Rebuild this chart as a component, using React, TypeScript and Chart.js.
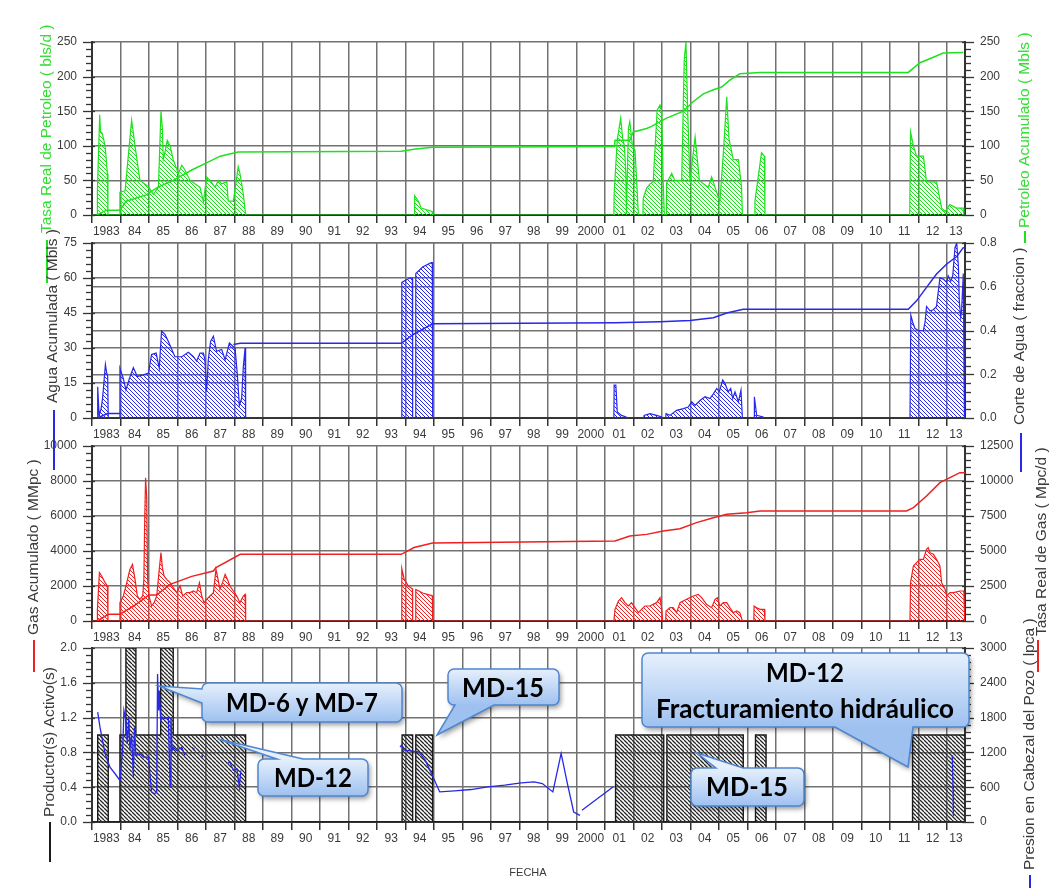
import React, { useEffect, useRef } from 'react';
import { Chart, registerables } from 'chart.js';

Chart.register(...registerables);

type Pt = [number, number | null];

// ---------------- x axis (years) ----------------
const X_MIN = 1983;
const X_MAX = 2013.63;
const yearTicks = [1983, 1984, 1985, 1986, 1987, 1988, 1989, 1990, 1991, 1992, 1993, 1994, 1995, 1996, 1997, 1998, 1999, 2000, 2001, 2002, 2003, 2004, 2005, 2006, 2007, 2008, 2009, 2010, 2011, 2012, 2013];
const yearLabels = ['1983', '84', '85', '86', '87', '88', '89', '90', '91', '92', '93', '94', '95', '96', '97', '98', '99', '2000', '01', '02', '03', '04', '05', '06', '07', '08', '09', '10', '11', '12', '13'];

// ---------------- y axis ticks ----------------
const oilRateTicks = [0, 50, 100, 150, 200, 250];
const oilCumTicks = [0, 50, 100, 150, 200, 250];
const waterCumTicks = [0, 15, 30, 45, 60, 75];
const waterCutTicks = [0, 0.2, 0.4, 0.6, 0.8];
const gasCumTicks = [0, 2000, 4000, 6000, 8000, 10000];
const gasRateTicks = [0, 2500, 5000, 7500, 10000, 12500];
const producerTicks = [0, 0.4, 0.8, 1.2, 1.6, 2.0];
const pressureTicks = [0, 600, 1200, 1800, 2400, 3000];

// ---------------- series: [year, value] ----------------
const oilRate: Pt[] = [
  [1983.0, 0], [1983.18, 0], [1983.19, 36], [1983.27, 145], [1983.30, 120], [1983.36, 118], [1983.46, 100], [1983.54, 60], [1983.56, 0],
  [1983.97, 0], [1983.98, 33], [1984.16, 35], [1984.39, 137], [1984.51, 100], [1984.68, 50], [1984.98, 41], [1985.15, 30], [1985.33, 40],
  [1985.42, 150], [1985.47, 125], [1985.50, 80], [1985.58, 95], [1985.64, 108], [1985.74, 100], [1985.85, 80], [1986.03, 60], [1986.15, 72],
  [1986.26, 65], [1986.44, 50], [1986.61, 45], [1986.79, 40], [1986.91, 19], [1987.02, 55], [1987.14, 50], [1987.32, 40], [1987.43, 50],
  [1987.55, 45], [1987.73, 48], [1987.78, 20], [1987.96, 20], [1988.13, 70], [1988.19, 60], [1988.31, 30], [1988.39, 0],
  [1994.30, 0], [1994.32, 28], [1994.45, 20], [1994.55, 10], [1994.93, 5], [1994.95, 0],
  [2001.31, 0], [2001.32, 31], [2001.43, 109], [2001.55, 140], [2001.62, 110], [2001.68, 100], [2001.73, 60], [2001.75, 0], [2001.77, 0],
  [2001.82, 125], [2001.87, 135], [2001.96, 100], [2002.05, 94], [2002.11, 50], [2002.17, 0],
  [2002.33, 0], [2002.34, 24], [2002.46, 39], [2002.58, 45], [2002.69, 48], [2002.83, 152], [2002.93, 159], [2002.99, 150], [2003.04, 50], [2003.08, 0],
  [2003.15, 0], [2003.16, 46], [2003.34, 60], [2003.45, 50], [2003.57, 50], [2003.69, 50], [2003.78, 225], [2003.84, 250], [2003.90, 150],
  [2003.98, 48], [2004.16, 113], [2004.24, 80], [2004.31, 50], [2004.45, 45], [2004.62, 40], [2004.74, 55], [2004.86, 40], [2005.03, 19],
  [2005.17, 101], [2005.27, 171], [2005.35, 110], [2005.50, 80], [2005.68, 80], [2005.79, 40], [2005.82, 0],
  [2006.25, 0], [2006.26, 20], [2006.49, 90], [2006.59, 85], [2006.61, 0],
  [2011.69, 0], [2011.72, 120], [2011.82, 100], [2011.93, 85], [2012.17, 85], [2012.28, 48], [2012.63, 48], [2012.81, 10], [2012.93, 5],
  [2013.10, 15], [2013.33, 10], [2013.57, 10], [2013.59, 0],
];

const oilCum: Pt[] = [
  [1983.19, 0.5], [1983.51, 7], [1983.98, 7], [1984.2, 20], [1984.9, 29], [1985.3, 40], [1985.85, 50], [1986.5, 65], [1987.0, 75], [1987.5, 85],
  [1988.13, 91], [1993.85, 92], [1994.3, 95], [1994.95, 98], [2001.33, 99], [2001.35, 108], [2001.87, 108], [2001.99, 120], [2002.46, 125],
  [2002.63, 128], [2003.16, 140], [2003.75, 150], [2004.10, 164], [2004.45, 175], [2004.80, 181], [2005.09, 185], [2005.38, 195], [2005.73, 204],
  [2006.44, 206], [2011.64, 206], [2012.05, 220], [2012.52, 228], [2012.87, 234], [2013.57, 235],
];

const waterCut: Pt[] = [
  [1983.0, 0], [1983.19, 0], [1983.20, 0.143], [1983.25, 0.012], [1983.32, 0.043], [1983.37, 0.089], [1983.42, 0.166], [1983.47, 0.245],
  [1983.51, 0.21], [1983.55, 0.19], [1983.57, 0],
  [1983.97, 0], [1983.98, 0.228], [1984.10, 0.18], [1984.19, 0.128], [1984.31, 0.18], [1984.45, 0.23], [1984.59, 0.19], [1984.80, 0.197],
  [1984.98, 0.205], [1985.09, 0.29], [1985.25, 0.297], [1985.36, 0.228], [1985.44, 0.397], [1985.56, 0.382], [1985.68, 0.35], [1985.80, 0.313],
  [1985.91, 0.28], [1986.15, 0.28], [1986.38, 0.3], [1986.56, 0.28], [1986.67, 0.26], [1986.79, 0.297], [1986.91, 0.297], [1986.96, 0.266],
  [1987.02, 0.12], [1987.08, 0.266], [1987.16, 0.35], [1987.26, 0.374], [1987.37, 0.305], [1987.55, 0.313], [1987.67, 0.266], [1987.82, 0.343],
  [1987.94, 0.328], [1988.02, 0.32], [1988.10, 0.197], [1988.17, 0.058], [1988.25, 0.089], [1988.31, 0.235], [1988.37, 0.32], [1988.39, 0],
  [1993.86, 0], [1993.87, 0.62], [1994.0, 0.63], [1994.15, 0.64], [1994.24, 0.64], [1994.25, 0], [1994.35, 0], [1994.36, 0.66], [1994.6, 0.69],
  [1994.9, 0.71], [1994.94, 0.71], [1994.95, 0],
  [2001.31, 0], [2001.32, 0.15], [2001.38, 0.15], [2001.43, 0.028], [2001.58, 0.012], [2001.74, 0.005], [2001.76, 0],
  [2002.36, 0], [2002.37, 0.012], [2002.58, 0.02], [2002.81, 0.012], [2002.99, 0.005], [2003.0, 0],
  [2003.13, 0], [2003.14, 0.02], [2003.28, 0.012], [2003.51, 0.035], [2003.75, 0.043], [2003.92, 0.05], [2004.04, 0.074], [2004.16, 0.058],
  [2004.33, 0.08], [2004.51, 0.097], [2004.68, 0.089], [2004.80, 0.11], [2004.92, 0.135], [2005.01, 0.12], [2005.13, 0.174], [2005.21, 0.158],
  [2005.32, 0.12], [2005.41, 0.135], [2005.48, 0.089], [2005.56, 0.12], [2005.68, 0.074], [2005.77, 0.128], [2005.82, 0],
  [2006.23, 0], [2006.24, 0.097], [2006.32, 0.012], [2006.55, 0.005], [2006.56, 0],
  [2011.70, 0], [2011.73, 0.47], [2011.79, 0.44], [2011.87, 0.41], [2011.99, 0.40], [2012.17, 0.40], [2012.23, 0.44], [2012.28, 0.51],
  [2012.40, 0.49], [2012.52, 0.495], [2012.63, 0.51], [2012.75, 0.64], [2012.87, 0.635], [2012.99, 0.62], [2013.04, 0.65], [2013.13, 0.625],
  [2013.20, 0.65], [2013.28, 0.78], [2013.34, 0.8], [2013.40, 0.69], [2013.43, 0.535], [2013.48, 0.46], [2013.51, 0.49], [2013.57, 0.66], [2013.61, 0],
];

const waterCum: Pt[] = [
  [1983.19, 0], [1983.55, 1.9], [1983.98, 1.9], [1984.0, null],
  [1987.96, 31.5], [1988.2, 32], [1993.85, 32], [1994.3, 36], [1994.95, 40.4], [2001.35, 40.8], [2002.93, 41.25], [2003.98, 41.8], [2004.8, 43],
  [2005.27, 45], [2005.85, 46.6], [2011.64, 46.6], [2011.93, 50.2], [2012.28, 56], [2012.63, 61.7], [2012.99, 66], [2013.34, 69.2], [2013.57, 73], [2013.63, 73],
];

const gasRate: Pt[] = [
  [1983.0, 0], [1983.18, 0], [1983.19, 833], [1983.26, 3452], [1983.34, 3214], [1983.46, 2738], [1983.54, 2500], [1983.56, 0],
  [1983.97, 0], [1983.98, 1310], [1984.10, 1786], [1984.22, 2738], [1984.33, 3690], [1984.42, 4048], [1984.51, 2976], [1984.59, 1786],
  [1984.68, 1548], [1984.78, 1786], [1984.82, 2976], [1984.85, 7262], [1984.88, 10238], [1984.92, 8810], [1984.95, 2976], [1985.00, 1786],
  [1985.09, 1071], [1985.18, 1310], [1985.27, 1786], [1985.36, 3690], [1985.42, 4881], [1985.47, 3810], [1985.53, 3214], [1985.62, 2976],
  [1985.74, 2738], [1985.85, 2381], [1985.97, 2024], [1986.09, 2500], [1986.18, 1786], [1986.32, 2024], [1986.44, 2024], [1986.56, 2143],
  [1986.67, 2024], [1986.77, 2738], [1986.85, 1786], [1986.93, 1310], [1987.02, 1548], [1987.14, 1786], [1987.26, 2024], [1987.35, 3690],
  [1987.40, 3214], [1987.49, 2262], [1987.58, 2738], [1987.67, 3333], [1987.75, 2976], [1987.84, 2500], [1987.96, 2143], [1988.08, 1786],
  [1988.19, 1310], [1988.25, 1548], [1988.31, 1786], [1988.37, 1905], [1988.39, 0],
  [1993.86, 0], [1993.87, 3750], [1993.95, 3000], [1994.1, 2500], [1994.24, 2300], [1994.25, 0], [1994.35, 0], [1994.36, 2250], [1994.6, 2000],
  [1994.94, 1800], [1994.95, 0],
  [2001.31, 0], [2001.35, 833], [2001.47, 1429], [2001.58, 1667], [2001.70, 1310], [2001.82, 1071], [2001.93, 1310], [2002.05, 952],
  [2002.17, 595], [2002.28, 833], [2002.40, 1071], [2002.58, 1071], [2002.69, 1190], [2002.81, 1310], [2002.93, 1667], [2002.99, 833], [2003.02, 0],
  [2003.13, 0], [2003.14, 714], [2003.28, 952], [2003.39, 952], [2003.51, 595], [2003.63, 1310], [2003.86, 1548], [2004.10, 1786], [2004.27, 1905],
  [2004.39, 1667], [2004.56, 1190], [2004.74, 952], [2004.86, 1548], [2004.94, 1667], [2005.03, 1071], [2005.15, 1310], [2005.27, 1310],
  [2005.38, 952], [2005.50, 595], [2005.62, 714], [2005.73, 595], [2005.82, 0],
  [2006.22, 0], [2006.23, 1071], [2006.32, 952], [2006.44, 833], [2006.59, 833], [2006.61, 0],
  [2011.70, 0], [2011.72, 2738], [2011.82, 3929], [2011.93, 4167], [2012.05, 4405], [2012.17, 4405], [2012.28, 5119], [2012.34, 5238],
  [2012.40, 4881], [2012.52, 4762], [2012.63, 4405], [2012.75, 3929], [2012.81, 2738], [2012.93, 2262], [2012.99, 1786], [2013.10, 2024],
  [2013.22, 2024], [2013.45, 2143], [2013.59, 2143], [2013.62, 0],
];

const gasCum: Pt[] = [
  [1983.19, 0], [1983.57, 381], [1983.98, 381], [1984.5, 900], [1985.0, 1486], [1985.27, 1486], [1985.74, 2095], [1986.5, 2550], [1987.26, 2857],
  [1987.35, 3048], [1988.2, 3810], [1993.85, 3810], [1994.3, 4200], [1994.95, 4457], [2001.35, 4571], [2001.87, 4857], [2002.46, 4950],
  [2003.04, 5143], [2003.63, 5276], [2004.21, 5620], [2004.80, 5905], [2005.27, 6096], [2005.97, 6190], [2006.44, 6286], [2011.58, 6286],
  [2011.82, 6476], [2012.28, 7143], [2012.75, 7905], [2013.10, 8190], [2013.45, 8476], [2013.63, 8476],
];

const producers: Pt[] = [
  [1983.0, 0], [1983.20, 1], [1983.57, 0], [1983.98, 1], [1984.19, 2], [1984.54, 1], [1985.41, 2], [1985.85, 1], [1988.39, 0],
  [1993.88, 1], [1994.25, 0], [1994.36, 1], [1994.95, 0], [2001.37, 1], [2003.06, 0], [2003.17, 1], [2005.85, 0], [2006.28, 1], [2006.65, 0],
  [2011.79, 1], [2013.63, 1],
];

const pressure: Pt[] = [
  [1983.20, 1893], [1983.28, 1635], [1983.46, 1176], [1983.63, 946], [1983.81, 832], [1983.98, 717], [1984.08, 1290], [1984.12, 1922],
  [1984.19, 1750], [1984.24, 1348], [1984.29, 1807], [1984.33, 1233], [1984.39, 1520], [1984.45, 774], [1984.49, 1635], [1984.54, 1147],
  [1984.68, 1176], [1984.82, 1118], [1984.98, 1118], [1985.09, 516], [1985.18, 488], [1985.27, 516], [1985.30, 2553], [1985.34, 1922],
  [1985.36, 2266], [1985.41, 1750], [1985.47, 1807], [1985.56, 1778], [1985.68, 1807], [1985.74, 602], [1985.77, 1807], [1985.81, 1233],
  [1985.85, 1290], [1985.97, 1233], [1986.15, 1290], [1986.26, 1147], [1986.3, null],
  [1986.5, 1290], [1986.6, 1250], [1986.65, null], [1986.85, 1150], [1986.88, 1118], [1986.9, null],
  [1987.73, 1004], [1987.84, 1033], [1987.96, 889], [1988.08, 918], [1988.17, 602], [1988.22, 889], [1988.3, null],
  [1993.81, 1290], [1993.86, 1327], [1993.95, 1240], [1994.47, 1211], [1994.69, 1067], [1994.91, 836], [1995.20, 519], [1995.72, 536],
  [1996.30, 560], [1996.89, 606], [1997.48, 635], [1998.06, 675], [1998.51, 692], [1998.80, 663], [1999.17, 519], [1999.46, 1183],
  [1999.68, 663], [1999.90, 173], [2000.12, 115], [2000.15, null], [2000.19, 202], [2001.29, 606], [2001.4, null],
  [2013.18, 1150], [2013.19, 1000], [2013.21, 600], [2013.22, 100],
];

// ---------------- look ----------------
const W = 1054;
const H = 888;
const XH = 26;
const FONT = "'Liberation Sans', Arial, sans-serif";
const GREEN = '#1fe01f';
const GREEN_TXT = '#33dd33';
const BLUE = '#2828e8';
const RED = '#ee2020';
const BLACK = '#1a1a1a';
const DARK = '#3a3a3a';
const GRID = '#727272';
const AXIS = '#333333';

function hatch(color: string, size = 4, lw = 1) {
  const c = document.createElement('canvas');
  c.width = size;
  c.height = size;
  const g = c.getContext('2d')!;
  g.strokeStyle = color;
  g.lineWidth = lw;
  g.beginPath();
  for (const k of [-1, 0, 1]) {
    g.moveTo(k * size, 0);
    g.lineTo(k * size + size, size);
  }
  g.stroke();
  return g.createPattern(c, 'repeat')!;
}

const callouts = [
  { x: 202, y: 683, w: 200, h: 39, edge: 'left', a: 689, b: 703, tx: 159, ty: 686, lines: [['MD-6 y MD-7', 302, 703, 152]] },
  { x: 258, y: 759, w: 110, h: 37, edge: 'top', a: 277, b: 303, tx: 218, ty: 739, lines: [['MD-12', 313, 778, 78]] },
  { x: 448, y: 669, w: 111, h: 36, edge: 'bottom', a: 455, b: 494, tx: 437, ty: 735, lines: [['MD-15', 503, 688, 82]] },
  { x: 642, y: 653, w: 327, h: 74, edge: 'bottom', a: 835, b: 913, tx: 908, ty: 767, lines: [['MD-12', 805, 673, 78], ['Fracturamiento hidráulico', 805, 709, 298]] },
  { x: 691, y: 768, w: 113, h: 38, edge: 'top', a: 716, b: 743, tx: 697, ty: 753, lines: [['MD-15', 747, 787, 82]] },
];

function drawCallout(ctx: CanvasRenderingContext2D, c: any) {
  const { x, y, w, h, edge, a, b, tx, ty } = c;
  const r = 6;
  ctx.save();
  ctx.beginPath();
  ctx.moveTo(x + r, y);
  if (edge === 'top') { ctx.lineTo(a, y); ctx.lineTo(tx, ty); ctx.lineTo(b, y); }
  ctx.lineTo(x + w - r, y);
  ctx.arcTo(x + w, y, x + w, y + r, r);
  ctx.lineTo(x + w, y + h - r);
  ctx.arcTo(x + w, y + h, x + w - r, y + h, r);
  if (edge === 'bottom') { ctx.lineTo(b, y + h); ctx.lineTo(tx, ty); ctx.lineTo(a, y + h); }
  ctx.lineTo(x + r, y + h);
  ctx.arcTo(x, y + h, x, y + h - r, r);
  if (edge === 'left') { ctx.lineTo(x, b); ctx.lineTo(tx, ty); ctx.lineTo(x, a); }
  ctx.lineTo(x, y + r);
  ctx.arcTo(x, y, x + r, y, r);
  ctx.closePath();
  const g = ctx.createLinearGradient(0, y, 0, y + h);
  g.addColorStop(0, '#e6f0fc');
  g.addColorStop(1, '#9ec1f0');
  ctx.shadowColor = 'rgba(0,0,0,0.4)';
  ctx.shadowBlur = 5;
  ctx.shadowOffsetX = 2;
  ctx.shadowOffsetY = 3;
  ctx.fillStyle = g;
  ctx.fill();
  ctx.shadowColor = 'rgba(0,0,0,0)';
  ctx.strokeStyle = '#4f86d0';
  ctx.lineWidth = 1.5;
  ctx.stroke();
  ctx.fillStyle = '#000';
  ctx.font = `bold 27px Lato, 'Open Sans', sans-serif`;
  ctx.textAlign = 'center';
  ctx.textBaseline = 'middle';
  for (const [t, cx, cy, mw] of c.lines) ctx.fillText(t, cx, cy, mw);
  ctx.restore();
}

const panels = [
  {
    top: 42, bottom: 215,
    left: { ticks: oilRateTicks, minor: 10, digits: 0, grid: true },
    right: { ticks: oilCumTicks, minor: 10, digits: 0, grid: false },
    series: [
      { data: oilRate, axis: 'y', color: GREEN, fill: true, width: 1.2 },
      { data: oilCum, axis: 'y2', color: GREEN, fill: false, width: 1.5 },
    ],
    titles: [
      { text: 'Tasa Real de Petroleo ( bls/d )', color: GREEN_TXT, x: 47, y: 233, line: GREEN, lx: 47, l0: 240, l1: 283 },
      { text: 'Petroleo Acumulado ( Mbls )', color: GREEN_TXT, x: 1025, y: 228, line: GREEN, lx: 1025, l0: 231, l1: 243 },
    ],
  },
  {
    top: 243, bottom: 418,
    left: { ticks: waterCumTicks, minor: 3, digits: 0, grid: true },
    right: { ticks: waterCutTicks, minor: 0.04, digits: 1, grid: true },
    series: [
      { data: waterCut, axis: 'y2', color: BLUE, fill: true, width: 1.2 },
      { data: waterCum, axis: 'y', color: BLUE, fill: false, width: 1.5 },
    ],
    titles: [
      { text: 'Agua Acumulada ( Mbls )', color: DARK, x: 53, y: 403, line: BLUE, lx: 54, l0: 410, l1: 470 },
      { text: 'Corte de Agua ( fraccion )', color: DARK, x: 1020, y: 425, line: BLUE, lx: 1021, l0: 433, l1: 472 },
    ],
  },
  {
    top: 446, bottom: 621,
    left: { ticks: gasCumTicks, minor: 400, digits: 0, grid: true },
    right: { ticks: gasRateTicks, minor: 500, digits: 0, grid: false },
    series: [
      { data: gasRate, axis: 'y2', color: RED, fill: true, width: 1.2 },
      { data: gasCum, axis: 'y', color: RED, fill: false, width: 1.5 },
    ],
    titles: [
      { text: 'Gas Acumulado ( MMpc )', color: DARK, x: 34, y: 635, line: RED, lx: 34, l0: 640, l1: 672 },
      { text: 'Tasa Real de Gas ( Mpc/d )', color: DARK, x: 1042, y: 636, line: RED, lx: 1038, l0: 640, l1: 672 },
    ],
  },
  {
    top: 648, bottom: 822,
    left: { ticks: producerTicks, minor: 0.08, digits: 1, grid: true },
    right: { ticks: pressureTicks, minor: 120, digits: 0, grid: false },
    series: [
      { data: pressure, axis: 'y2', color: BLUE, fill: false, width: 1.3 },
      { data: producers, axis: 'y', color: BLACK, fill: true, stepped: true, width: 1.4, hatchColor: '#262626', hatchWidth: 1.3 },
    ],
    titles: [
      { text: 'Productor(s) Activo(s)', color: DARK, x: 50, y: 817, line: BLACK, lx: 50, l0: 822, l1: 862 },
      { text: 'Presion en Cabezal del Pozo ( lpca )', color: DARK, x: 1030, y: 870, line: BLUE, lx: 1030, l0: 875, l1: 888 },
    ],
  },
];

function yAxis(def: any, position: 'left' | 'right') {
  const ticks = def.ticks as number[];
  return {
    type: 'linear',
    position,
    min: ticks[0],
    max: ticks[ticks.length - 1],
    afterBuildTicks: (s: any) => { s.ticks = ticks.map((v) => ({ value: v })); },
    afterFit: (s: any) => { s.width = position === 'left' ? 92 : 89; },
    grid: { display: def.grid, color: GRID, lineWidth: 1.5, drawTicks: false },
    border: { display: true, color: AXIS, width: 2 },
    ticks: {
      color: DARK,
      padding: 15,
      font: { family: FONT, size: 12 },
      callback: (v: any) => Number(v).toFixed(def.digits),
    },
  };
}

function buildConfig(p: any, idx: number) {
  const labelPos = yearTicks.map((y) => Math.min(y + 0.5, (y + X_MAX) / 2));
  const labelMap = new Map<number, string>();
  labelPos.forEach((v, i) => labelMap.set(v, yearLabels[i]));
  const boundary = new Set<number>(yearTicks);
  const xTickValues: number[] = [];
  yearTicks.forEach((y, i) => { xTickValues.push(y); xTickValues.push(labelPos[i]); });

  const datasets = p.series.map((s: any) => ({
    data: s.data.map(([x, y]: Pt) => ({ x, y })),
    yAxisID: s.axis,
    borderColor: s.color,
    borderWidth: s.width,
    backgroundColor: s.fill ? hatch(s.hatchColor || s.color, 4, s.hatchWidth || 1) : 'rgba(0,0,0,0)',
    fill: s.fill ? 'origin' : false,
    stepped: s.stepped || false,
    pointRadius: 0,
    tension: 0,
    spanGaps: false,
  }));

  const extras = {
    id: 'extras' + idx,
    afterDraw(chart: any) {
      const ctx: CanvasRenderingContext2D = chart.ctx;
      ctx.save();
      ctx.strokeStyle = AXIS;
      ctx.lineWidth = 1.3;
      for (const [id, def] of [['y', p.left], ['y2', p.right]] as any) {
        const s = chart.scales[id];
        const isLeft = s.position === 'left';
        const x0 = isLeft ? s.right : s.left;
        const ticks = def.ticks as number[];
        const lo = ticks[0];
        const n = Math.round((ticks[ticks.length - 1] - lo) / def.minor);
        for (let i = 0; i <= n; i++) {
          const v = lo + i * def.minor;
          const y = Math.round(s.getPixelForValue(v)) + 0.5;
          const major = ticks.some((m) => Math.abs(m - v) < def.minor / 10);
          ctx.beginPath();
          if (isLeft) { ctx.moveTo(x0 - (major ? 9 : 6), y); ctx.lineTo(x0 + (major ? 3 : 0), y); }
          else { ctx.moveTo(x0 - (major ? 3 : 0), y); ctx.lineTo(x0 + (major ? 9 : 6), y); }
          ctx.stroke();
        }
      }
      for (const t of p.titles) {
        ctx.save();
        ctx.strokeStyle = t.line;
        ctx.lineWidth = 2;
        ctx.beginPath();
        ctx.moveTo(t.lx, t.l0);
        ctx.lineTo(t.lx, t.l1);
        ctx.stroke();
        ctx.translate(t.x, t.y);
        ctx.rotate(-Math.PI / 2);
        ctx.fillStyle = t.color;
        ctx.font = `15.5px ${FONT}`;
        ctx.textAlign = 'left';
        ctx.textBaseline = 'middle';
        ctx.fillText(t.text, 0, 0);
        ctx.restore();
      }
      if (idx === 3) {
        for (const c of callouts) drawCallout(ctx, c);
        ctx.fillStyle = DARK;
        ctx.font = `11px ${FONT}`;
        ctx.textAlign = 'center';
        ctx.textBaseline = 'middle';
        ctx.fillText('FECHA', 528, 873);
      }
      ctx.restore();
    },
  };

  return {
    type: 'line',
    data: { datasets },
    options: {
      responsive: false,
      animation: false,
      events: [],
      layout: { padding: { top: p.top, bottom: H - p.bottom - XH, left: 0, right: 0 } },
      plugins: { legend: { display: false }, tooltip: { enabled: false } },
      scales: {
        x: {
          type: 'linear',
          position: 'bottom',
          min: X_MIN,
          max: X_MAX,
          afterBuildTicks: (s: any) => { s.ticks = xTickValues.map((v) => ({ value: v })); },
          afterFit: (s: any) => { s.height = XH; },
          grid: {
            color: (c: any) => (c.tick && boundary.has(c.tick.value) ? GRID : 'rgba(0,0,0,0)'),
            tickColor: (c: any) => (c.tick && boundary.has(c.tick.value) ? AXIS : 'rgba(0,0,0,0)'),
            lineWidth: 1.5,
            tickLength: 8,
          },
          border: { display: true, color: AXIS, width: 2 },
          ticks: {
            autoSkip: false,
            maxRotation: 0,
            minRotation: 0,
            padding: 1,
            color: DARK,
            font: { family: FONT, size: 12 },
            callback: (v: any) => labelMap.get(v) ?? '',
          },
        },
        y: yAxis(p.left, 'left'),
        y2: yAxis(p.right, 'right'),
      },
    },
    plugins: [extras],
  };
}

export default function App() {
  const r0 = useRef<HTMLCanvasElement>(null);
  const r1 = useRef<HTMLCanvasElement>(null);
  const r2 = useRef<HTMLCanvasElement>(null);
  const r3 = useRef<HTMLCanvasElement>(null);
  const refs = [r0, r1, r2, r3];

  useEffect(() => {
    const charts = panels.map((p, i) => new Chart(refs[i].current as HTMLCanvasElement, buildConfig(p, i) as any));
    return () => charts.forEach((c) => c.destroy());
  }, []);

  return (
    <div style={{ position: 'absolute', left: 0, top: 0, width: W, height: H, background: '#fff', overflow: 'hidden' }}>
      {refs.map((r, i) => (
        <canvas key={i} ref={r} width={W} height={H} style={{ position: 'absolute', left: 0, top: 0, width: W, height: H }} />
      ))}
    </div>
  );
}
